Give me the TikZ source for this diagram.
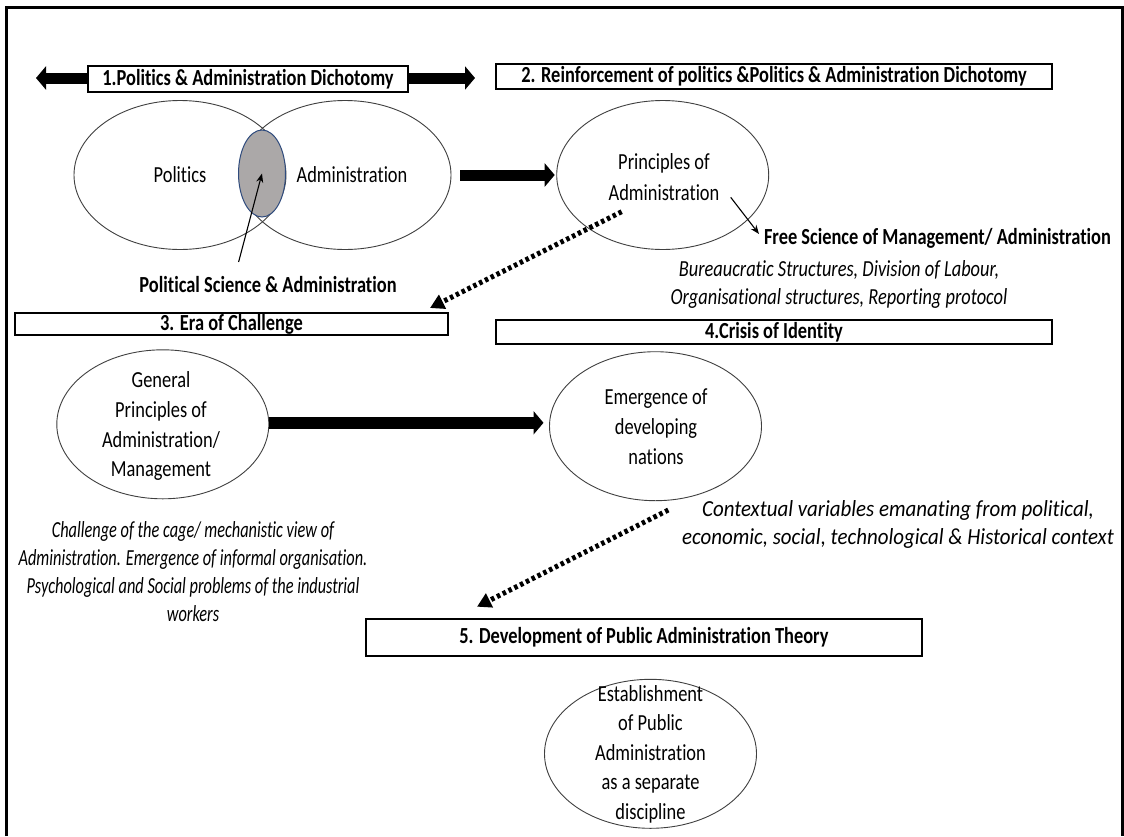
\documentclass[tikz,border=0pt]{standalone}
\usepackage{fontspec}
\setmainfont{Carlito}[FakeStretch=0.80, Ligatures=NoCommon]
\newfontfamily\narrowfam{Carlito}[FakeStretch=0.71, Ligatures=NoCommon]
\newfontfamily\widefam{Carlito}[FakeStretch=0.91, Ligatures=NoCommon]
\usetikzlibrary{arrows.meta,shapes.geometric,calc}
\definecolor{lensgrey}{RGB}{171,168,168}
\definecolor{lensblue}{RGB}{47,75,125}
\begin{document}
\begin{tikzpicture}[x=1pt,y=-1pt,
  every node/.style={inner sep=0pt, outer sep=0pt},
  txt/.style={font=\fontsize{23}{30}\selectfont, align=center},
  itx/.style={font=\fontsize{23}{28}\selectfont\itshape, align=center},
  bld/.style={font=\fontsize{23}{28}\selectfont\bfseries, align=center},
  stagebox/.style={draw, line width=2pt, fill=white, font=\fontsize{23}{28}\selectfont\bfseries},
  oval/.style={ellipse, draw=black!75, line width=0.9pt, minimum width=212pt, minimum height=149pt},
  fatarrow/.style={line width=11pt, -{Triangle[width=23pt,length=10pt]}},
  dotarrow/.style={line width=5pt, dash pattern=on 3.5pt off 3pt, -{Triangle[width=15pt,length=14pt]}},
  thinarrow/.style={line width=1.1pt, -{Stealth[width=7pt,length=9pt]}}]

\useasboundingbox (0,0) rectangle (1124,836);
\fill[white] (0,0) rectangle (1124,836);
% outer frame, open at the bottom
\draw[line width=2.5pt] (6.5,836) -- (6.5,7.5) -- (1122.5,7.5) -- (1122.5,836);

% ---- stage 1 ----
\coordinate (dl) at (36,78);
\coordinate (dr) at (475,78);
\draw[line width=11pt, {Triangle[width=23pt,length=10pt]}-{Triangle[width=23pt,length=10pt]}] (dl) -- (dr);
\node[stagebox, minimum width=320pt, minimum height=26pt] (s1) at (248,79) {1.Politics \& Administration Dichotomy};

\node[oval] (pol) at (180,175) {};
\node[oval] (adm) at (345,175) {};
\node[ellipse, minimum width=47pt, minimum height=87pt, fill=lensgrey, draw=lensblue, line width=1pt] (lens) at (262,173.5) {};
\node[txt] (polt) at (180,175) {Politics};
\node[txt] (admt) at (352,175) {Administration};
\node[bld] (psa) at (268,285) {Political Science \& Administration};
\coordinate (psafoot) at (238.6,262);
\draw[thinarrow] (psafoot) -- (lens.center);

% ---- stage 2 ----
\node[stagebox, minimum width=556pt, minimum height=25pt] (s2) at (774,76.5) {2. Reinforcement of politics \&Politics \& Administration Dichotomy};
\node[oval] (pri) at (662.7,175) {};
\node[txt, font=\fontsize{23}{31}\selectfont] (prit) at (664,177.3) {Principles of\\Administration};
\draw[fatarrow] ($(adm.east)+(9,0)$) -- ($(pri.west)+(-2,0)$);

\node[bld, anchor=west] (free) at (764,238) {Free Science of Management/ Administration};
\coordinate (fa) at (730.7,197.3);
\draw[thinarrow] (fa) -- ($(free.west)+(-5,-4)$);
\node[itx] (bur) at (839,284.5) {Bureaucratic Structures, Division of Labour,\\Organisational structures, Reporting protocol};

% ---- stages 3 and 4 ----
\node[stagebox, minimum width=433pt, minimum height=22pt] (s3) at (231.5,324) {3. Era of Challenge};
\node[stagebox, minimum width=556pt, minimum height=24pt] (s4) at (774,332) {4.Crisis of Identity};
\coordinate (d1) at (621.7,211.7);
\draw[dotarrow] (d1) -- ($(s3.north east)+(-18,-5)$);

\node[oval] (gen) at (162.8,424.3) {};
\node[txt, font=\fontsize{23}{29.7}\selectfont] (gent) at (161,426.2) {General\\Principles of\\Administration/\\Management};
\node[oval] (emg) at (655.5,426.2) {};
\node[txt] (emgt) at (656,426.7) {Emergence of\\developing\\nations};
\draw[fatarrow, line width=12pt] ($(gen.east)+(0,-1.5)$) -- ($(gen.east -| emg.west)+(-6,-1.5)$);

\node[itx, font=\fontsize{23}{28}\narrowfam\itshape] (chl) at (193,571.5) {Challenge of the cage/ mechanistic view of\\Administration. Emergence of informal organisation.\\Psychological and Social problems of the industrial\\workers};
\node[itx, font=\fontsize{23}{28}\widefam\itshape] (ctx) at (898,524) {Contextual variables emanating from political,\\economic, social, technological \& Historical context};

% ---- stage 5 ----
\node[stagebox, minimum width=555.7pt, minimum height=36.7pt] (s5) at (643.85,637.65) {5. Development of Public Administration Theory};
\coordinate (d2) at (668.3,510);
\draw[dotarrow] (d2) -- ($(s5.north west)+(111,-12.6)$);

\node[oval] (est) at (650.5,753.8) {};
\node[txt, font=\fontsize{23}{29.5}\selectfont] (estt) at (650.5,754) {Establishment\\of Public\\Administration\\as a separate\\discipline};
\end{tikzpicture}
\end{document}
